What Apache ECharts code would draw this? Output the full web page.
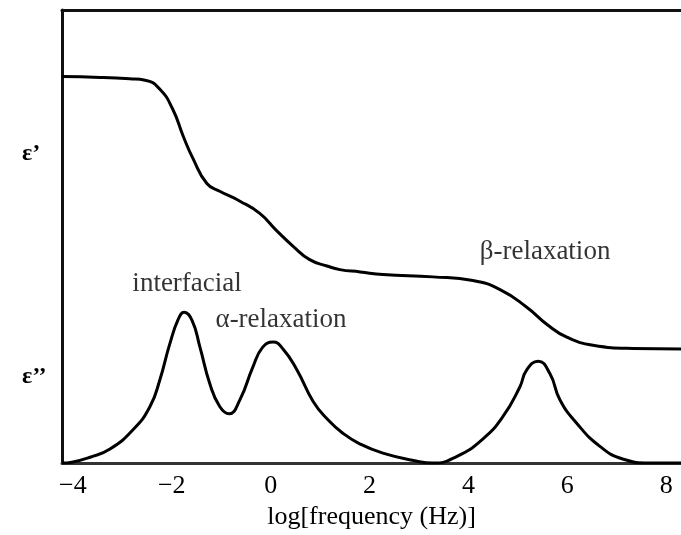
<!DOCTYPE html>
<html>
<head>
<meta charset="utf-8">
<style>
  html, body { margin: 0; padding: 0; background: #fff; }
  #chart { width: 681px; height: 535px; }
</style>
<script src="https://cdn.jsdelivr.net/npm/echarts@6/dist/echarts.min.js"></script>
</head>
<body>
<div id="chart"></div>
<script>
// Real part of the permittivity, ε', against log frequency
const epsRealX = [-4.22, -3.45, -2.85, -2.54, -2.24, -1.98, -1.77, -1.57, -1.29, -1.03, -0.62, -0.22, 0.13, 0.45, 0.79, 1.14, 1.40, 1.81, 2.27, 3.28, 4.09, 4.64, 5.18, 5.59, 5.99, 6.52, 7.33, 8.30];
const epsRealY = [85.3, 85.1, 84.8, 84.5, 82.5, 78.1, 72.2, 67.2, 61.7, 60.0, 57.8, 55.1, 51.2, 47.9, 44.9, 43.5, 42.7, 42.2, 41.6, 41.1, 40.3, 38.3, 34.4, 30.6, 27.8, 26.0, 25.3, 25.2];

// Loss part, ε'', with the interfacial, α and β peaks
const epsLossX = [-4.22, -4.02, -3.65, -3.25, -2.78, -2.44, -2.24, -2.04, -1.87, -1.75, -1.59, -1.43, -1.23, -1.03, -0.84, -0.62, -0.36, -0.16, 0.05, 0.25, 0.53, 0.86, 1.14, 1.46, 1.81, 2.27, 2.96, 3.28, 3.77, 4.29, 4.70, 5.04, 5.18, 5.41, 5.65, 5.85, 6.19, 6.66, 7.12, 7.67, 8.30];
const epsLossY = [0, 0.2, 1.3, 3.1, 7.4, 12.5, 18.4, 26.3, 31.7, 33.3, 31.5, 25.6, 17.5, 12.5, 10.9, 14.0, 21.2, 25.6, 26.7, 25.2, 20.6, 13.6, 9.8, 6.6, 4.2, 2.2, 0.4, 0, 1.5, 5.3, 10.3, 16.8, 20.6, 22.5, 19.7, 14.0, 8.8, 3.7, 0.9, 0, 0];

// Axis ticks
const xTicks = [-4, -2, 0, 2, 4, 6, 8];
const yTicks = [19.0, 68.3];
const yTickText = ['ε’’', 'ε’'];

// Peak annotations
const noteText = ['interfacial', 'α-relaxation', 'β-relaxation'];
const noteX = [-1.69, 0.21, 5.55];
const noteY = [39.6, 31.7, 46.6];

const zip = (xs, ys) => xs.map((x, i) => [x, ys[i]]);

const serif = '"Liberation Serif", "Times New Roman", serif';
const chart = echarts.init(document.getElementById('chart'));

chart.setOption({
  animation: false,
  backgroundColor: '#fff',
  grid: { left: 62, right: 0, top: 10, bottom: 68, containLabel: false },
  xAxis: [
    {
      type: 'value',
      min: -4.22,
      max: 8.30,
      name: 'log[frequency (Hz)]',
      nameLocation: 'middle',
      nameGap: 38,
      nameTextStyle: { fontFamily: serif, fontSize: 26, color: '#000' },
      axisLine: { show: true, onZero: false, lineStyle: { color: '#333', width: 3 } },
      axisTick: { show: false },
      splitLine: { show: false },
      axisLabel: {
        customValues: xTicks,
        margin: 10,
        fontFamily: serif,
        fontSize: 26,
        color: '#000',
        formatter: v => (v < 0 ? '\u2212' + Math.abs(v) : String(v))
      }
    },
    {
      type: 'value',
      position: 'top',
      min: -4.22,
      max: 8.30,
      axisLine: { show: true, onZero: false, lineStyle: { color: '#111', width: 3 } },
      axisTick: { show: false },
      axisLabel: { show: false },
      splitLine: { show: false }
    }
  ],
  yAxis: {
    type: 'value',
    min: 0,
    max: 100,
    axisLine: { show: true, onZero: false, lineStyle: { color: '#111', width: 3 } },
    axisTick: { show: false },
    splitLine: { show: false },
    axisLabel: {
      customValues: yTicks,
      align: 'left',
      margin: 40,
      fontFamily: serif,
      fontSize: 24,
      fontWeight: 'bold',
      color: '#000',
      formatter: v => yTickText[yTicks.indexOf(v)]
    }
  },
  series: [
    {
      type: 'line',
      data: zip(epsRealX, epsRealY),
      smooth: 0.5,
      showSymbol: false,
      lineStyle: { color: '#000', width: 3 }
    },
    {
      type: 'line',
      data: zip(epsLossX, epsLossY),
      smooth: 0.5,
      showSymbol: false,
      lineStyle: { color: '#000', width: 3 }
    },
    {
      type: 'scatter',
      symbolSize: 0,
      data: noteX.map((x, i) => ({ value: [x, noteY[i]], name: noteText[i] })),
      label: {
        show: true,
        position: 'inside',
        formatter: p => p.name,
        fontFamily: serif,
        fontSize: 27,
        color: '#000'
      },
      emphasis: { disabled: true },
      silent: true
    }
  ]
});
</script>
</body>
</html>
